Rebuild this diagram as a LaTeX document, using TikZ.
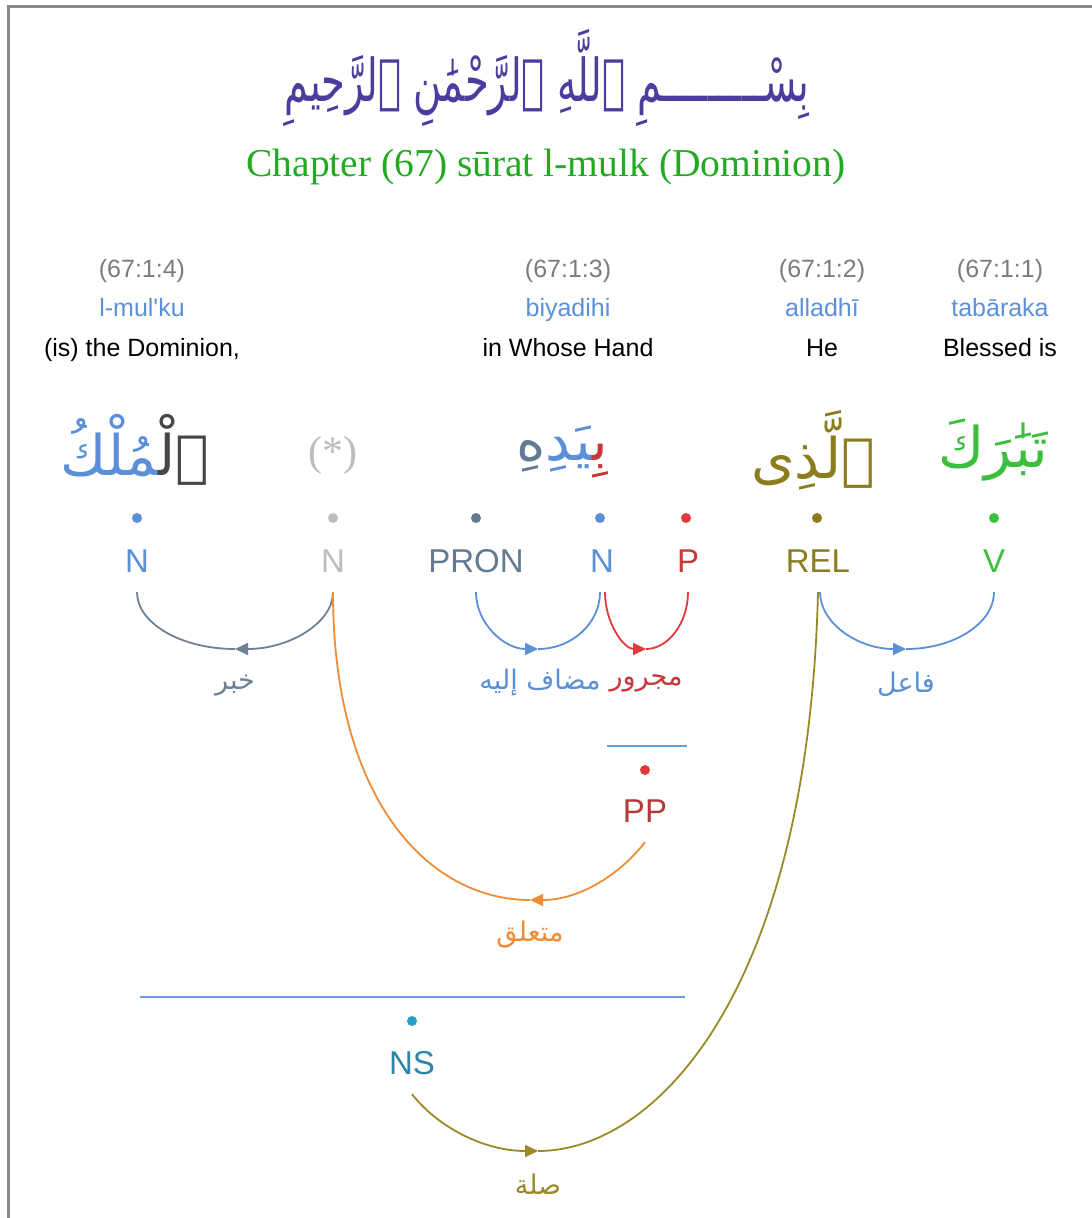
\documentclass[tikz,border=0pt]{standalone}
\usepackage{fontspec}
\usetikzlibrary{arrows.meta}
\setmainfont{Liberation Sans}
\newfontfamily\titleface{Liberation Serif}
\newfontfamily\arabicfont[Script=Arabic]{DejaVu Sans}
\TeXXeTstate=1

\definecolor{framegray}{HTML}{8A8A8A}
\definecolor{refgray}{HTML}{7C7C7C}
\definecolor{translit}{HTML}{5C90D8}
\definecolor{titlegreen}{HTML}{22AA22}
\definecolor{basmala}{HTML}{4B3C9E}
\definecolor{nounblue}{HTML}{5B90D8}
\definecolor{hiddengray}{HTML}{BDBDBD}
\definecolor{pronslate}{HTML}{627A93}
\definecolor{prepred}{HTML}{C8383A}
\definecolor{prepdot}{HTML}{E03A3A}
\definecolor{relolive}{HTML}{8B7D1E}
\definecolor{verbgreen}{HTML}{3CBF3C}
\definecolor{ppred}{HTML}{B43A3A}
\definecolor{nsteal}{HTML}{2E85A6}
\definecolor{nsdot}{HTML}{2A9DC8}
\definecolor{khabarslate}{HTML}{6E8296}
\definecolor{attorange}{HTML}{F08C35}
\definecolor{silaolive}{HTML}{9A8A25}
\definecolor{phraseblue}{HTML}{6A9BE0}
\definecolor{prefixgray}{HTML}{474747}

\begin{document}
\begin{tikzpicture}[x=1pt,y=-1pt,
  refno/.style={anchor=base,font=\fontsize{25}{30}\selectfont,text=refgray},
  translit/.style={anchor=base,font=\fontsize{25}{30}\selectfont,text=translit},
  gloss/.style={anchor=base,font=\fontsize{25}{30}\selectfont,text=black},
  word/.style={font=\arabicfont\fontsize{56}{62}\selectfont},
  postag/.style={anchor=base,font=\fontsize{33}{40}\selectfont,inner xsep=0pt,inner ysep=20pt,text depth=0pt},
  tok/.style={circle,fill,inner sep=0pt,minimum size=10pt},
  rellabel/.style={font=\arabicfont\fontsize{27}{32}\selectfont},
  edge/.style={line width=1.8pt},
  tip/.style={-{Triangle[length=13pt,width=12pt]}},
  phrase/.style={line width=2.4pt,phraseblue}]

\useasboundingbox (0,0) rectangle (1092,1218);
\fill[white] (0,0) rectangle (1092,1218);
\draw[framegray,line width=3pt] (1092,6) -- (8,6) -- (8,1218);

% heading
\node (basm) at (547,78) {\color{basmala}\resizebox{525pt}{72pt}{\arabicfont\beginR بِسْـــــــــمِ ٱللَّهِ ٱلرَّحْمَٰنِ ٱلرَّحِيمِ\endR}};
\node[anchor=base,font=\titleface\fontsize{39.5}{46}\selectfont,text=titlegreen] (title) at (546,176) {Chapter (67) sūrat l-mulk (Dominion)};

% word references, transliterations and glosses
\node[refno] (r4) at (142,277) {(67:1:4)};
\node[translit] (t4) at (142,316) {l-mul\textquotesingle ku};
\node[gloss] (g4) at (142,356) {(is) the Dominion,};
\node[refno] (r3) at (568,277) {(67:1:3)};
\node[translit] (t3) at (568,316) {biyadihi};
\node[gloss] (g3) at (568,356) {in Whose Hand};
\node[refno] (r2) at (822,277) {(67:1:2)};
\node[translit] (t2) at (822,316) {alladhī};
\node[gloss] (g2) at (822,356) {He};
\node[refno] (r1) at (1000,277) {(67:1:1)};
\node[translit] (t1) at (1000,316) {tabāraka};
\node[gloss] (g1) at (1000,356) {Blessed is};

% Arabic words, segments coloured by part of speech
\node[word] (w4) at (135,450) {{\color{nounblue}^^^^200dمُلْكُ}{\color{prefixgray}ٱلْ^^^^200d}};
\node[font=\titleface\fontsize{42}{48}\selectfont,text=hiddengray] (wstar) at (333,455) {(*)};
\node[word] (w3) at (562,452) {{\color{pronslate}هِ}{\color{nounblue}^^^^200dيَدِ}{\color{prepred}بِ^^^^200d}};
\node[word,text=relolive] (w2) at (813,450) {ٱلَّذِى};
\node[word,text=verbgreen] (w1) at (993,450) {تَبَٰرَكَ};

% token dots
\node[tok,nounblue] (d4) at (137,518) {};
\node[tok,hiddengray] (dstar) at (333,518) {};
\node[tok,pronslate] (dpron) at (476,518) {};
\node[tok,nounblue] (dn) at (600,518) {};
\node[tok,prepdot] (dp) at (686,518) {};
\node[tok,relolive] (drel) at (817,518) {};
\node[tok,verbgreen] (dv) at (994,518) {};

% part-of-speech tags
\node[postag,text=nounblue] (n1) at (137,572) {N};
\node[postag,text=hiddengray] (nstar) at (333,572) {N};
\node[postag,text=pronslate] (pron) at (476,572) {PRON};
\node[postag,text=nounblue] (n3) at (602,572) {N};
\node[postag,text=prepred] (p) at (688,572) {P};
\node[postag,text=relolive] (rel) at (818,572) {REL};
\node[postag,text=verbgreen] (v) at (994,572) {V};

% prepositional phrase
\draw[phrase] (607,746) -- (687,746);
\node[tok,prepdot] (dpp) at (645,770) {};
\node[postag,text=ppred] (pp) at (645,822) {PP};

% nominal sentence
\draw[phrase] (140,997) -- (685,997);
\node[tok,nsdot] (dns) at (412,1021) {};
\node[postag,text=nsteal] (ns) at (412,1074) {NS};

% dependency arcs
\coordinate (kmid) at (235,649);
\draw[edge,khabarslate,tip] (nstar.south) .. controls +(0,31) and +(54,0) .. (kmid);
\draw[edge,khabarslate] (kmid) .. controls +(-54,0) and +(0,31) .. (n1.south);
\node[rellabel,text=khabarslate] (lk) at (235,686) {\beginR خبر\endR};

\coordinate (mmid) at (538,649);
\draw[edge,nounblue,tip] (pron.south) .. controls +(0,31) and +(-34,0) .. (mmid);
\draw[edge,nounblue] (mmid) .. controls +(34,0) and +(0,31) .. ([xshift=-2pt]n3.south);
\node[rellabel,text=nounblue] (lm) at (540,683) {\beginR مضاف إليه\endR};

\coordinate (jmid) at (646,649);
\draw[edge,prepdot,tip] ([xshift=3pt]n3.south) .. controls +(0,31) and +(-22,0) .. (jmid);
\draw[edge,prepdot] (jmid) .. controls +(22,0) and +(0,31) .. (p.south);
\node[rellabel,text=prepred] (lj) at (646,683) {\beginR مجرور\endR};

\coordinate (fmid) at (906,649);
\draw[edge,nounblue,tip] ([xshift=2pt]rel.south) .. controls +(0,31) and +(-48,0) .. (fmid);
\draw[edge,nounblue] (fmid) .. controls +(48,0) and +(0,31) .. (v.south);
\node[rellabel,text=nounblue] (lf) at (906,684) {\beginR فاعل\endR};

\coordinate (omid) at (530,900);
\draw[edge,attorange,tip] (pp.south) .. controls +(-25,32) and +(50,0) .. (omid);
\draw[edge,attorange] (omid) .. controls +(-100,0) and +(0,210) .. (nstar.south);
\node[rellabel,text=attorange] (lo) at (530,935) {\beginR متعلق\endR};

\coordinate (smid) at (538,1151);
\draw[edge,silaolive,tip] (ns.south) .. controls +(25,32) and +(-55,0) .. (smid);
\draw[edge,silaolive] (smid) .. controls +(118,0) and +(-10,400) .. (rel.south);
\node[rellabel,text=silaolive] (ls) at (538,1184) {\beginR صلة\endR};

\end{tikzpicture}
\end{document}
